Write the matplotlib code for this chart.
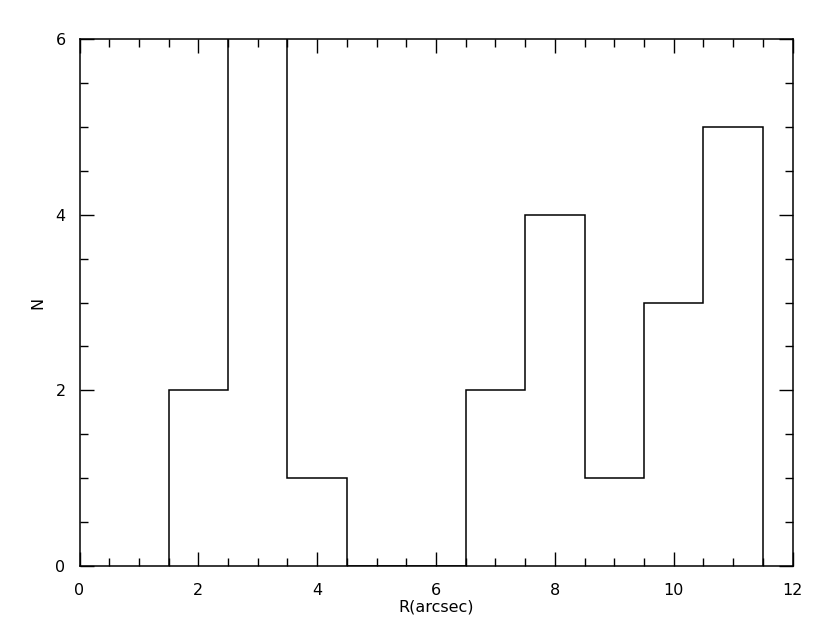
import matplotlib
matplotlib.use("Agg")
import matplotlib.pyplot as plt
from matplotlib.ticker import MultipleLocator
import numpy as np

# Histogram data
bin_edges = [1.5, 2.5, 3.5, 4.5, 5.5, 6.5, 7.5, 8.5, 9.5, 10.5, 11.5]
counts = [2, 8, 1, 0, 0, 2, 4, 1, 3, 5]
x_ticks = [0, 2, 4, 6, 8, 10, 12]
y_ticks = [0, 2, 4, 6]

fig = plt.figure(figsize=(8.3, 6.3), dpi=100)
ax = fig.add_axes([79.5/830, 1-566/630, (792.5-79.5)/830, (566-39)/630])

ax.stairs(counts, bin_edges, baseline=0, fill=False, color="black", linewidth=1.1)

ax.set_xlim(0, 12)
ax.set_ylim(0, 6)
ax.set_xticks(x_ticks)
ax.set_yticks(y_ticks)
ax.xaxis.set_minor_locator(MultipleLocator(0.5))
ax.yaxis.set_minor_locator(MultipleLocator(0.5))
ax.tick_params(which="both", direction="in", top=True, right=True, width=1.0,
               labelsize=11.5, colors="black")
ax.tick_params(which="major", length=10)
ax.tick_params(which="minor", length=6)
ax.tick_params(axis="x", pad=12)
ax.tick_params(axis="y", pad=10)
for s in ax.spines.values():
    s.set_linewidth(1.1)

ax.set_xlabel("R(arcsec)", fontsize=11.5, labelpad=1)
ax.set_ylabel("N", fontsize=11.5, labelpad=7)

fig.savefig("out.png", dpi=100)
